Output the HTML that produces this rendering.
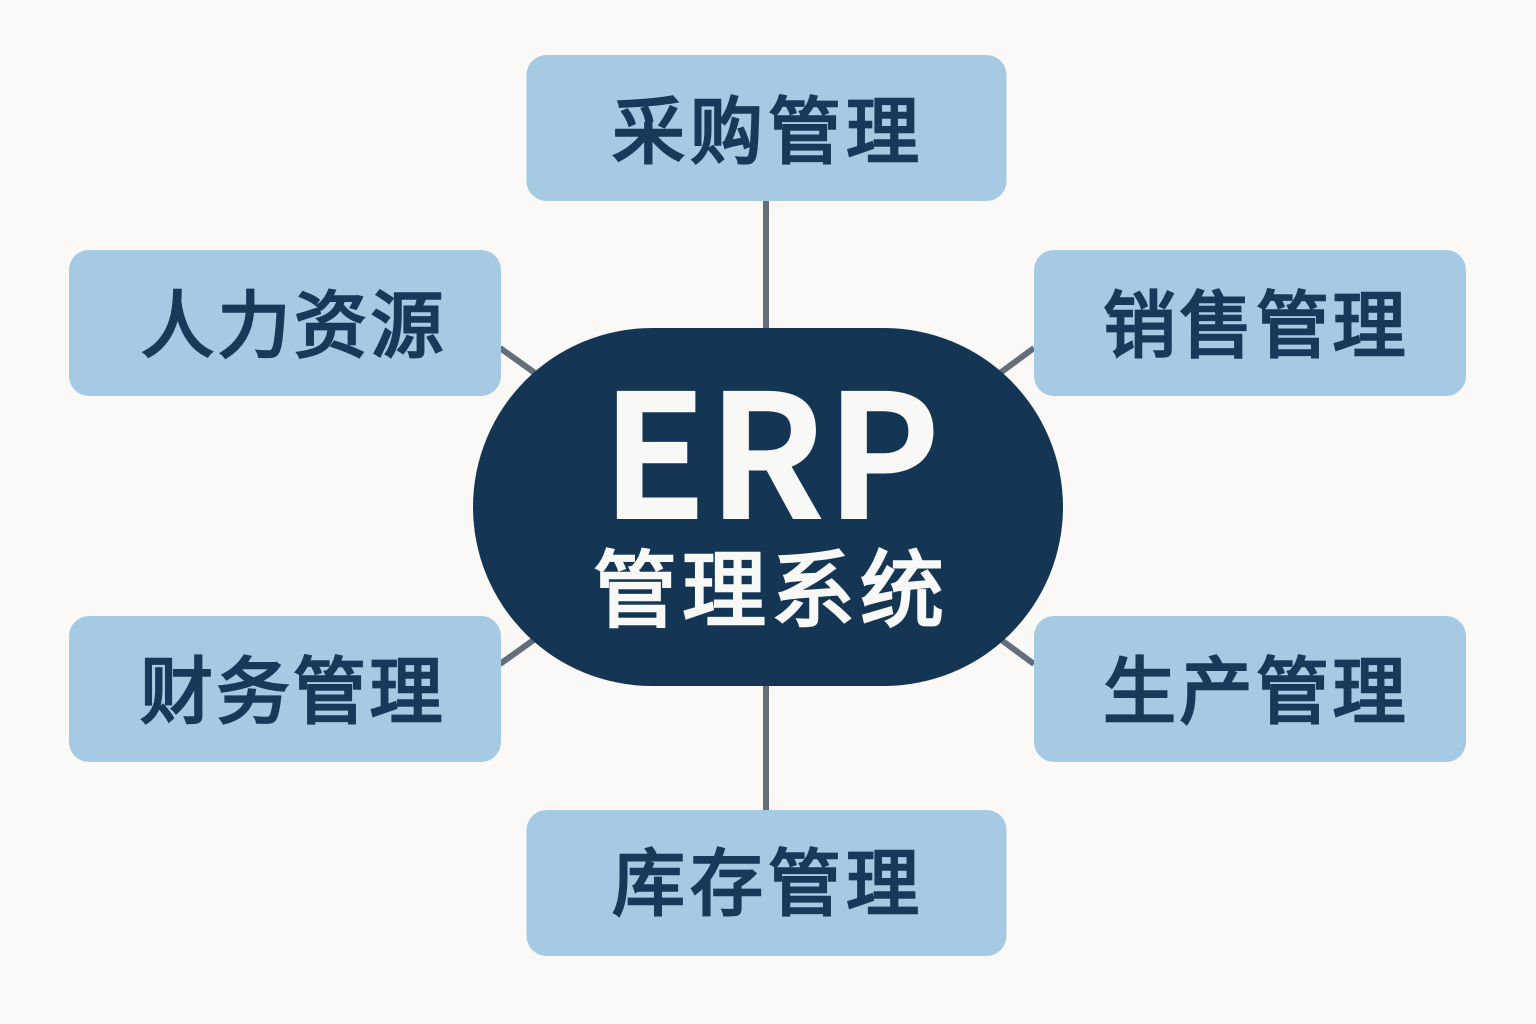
<!DOCTYPE html>
<html lang="zh">
<head>
<meta charset="utf-8">
<style>
html,body{margin:0;padding:0;background:#faf9f7;}
svg{display:block;}
text{font-family:"Noto Sans CJK SC",sans-serif;text-anchor:middle;}
.l{font-size:73px;font-weight:400;fill:#173a5a;stroke:#173a5a;stroke-width:2.6px;letter-spacing:5px;}
.s{letter-spacing:3.5px;}
.c{font-size:84px;font-weight:400;fill:#f8f8f6;stroke:#f8f8f6;stroke-width:2.6px;letter-spacing:5px;}
.e{font-size:173px;font-weight:700;fill:#f8f8f6;}
</style>
</head>
<body>
<svg width="1536" height="1024" viewBox="0 0 1536 1024">
<rect width="1536" height="1024" fill="#faf9f7"/>
<g stroke="#636e7a" stroke-width="6" fill="none">
<line x1="766" y1="200" x2="766" y2="330"/>
<line x1="766" y1="685" x2="766" y2="811"/>
<line x1="500" y1="348" x2="535" y2="373"/>
<line x1="1034" y1="348" x2="1000" y2="373"/>
<line x1="500" y1="664" x2="535" y2="639"/>
<line x1="1034" y1="664" x2="1000" y2="639"/>
</g>
<g fill="#a6cae3">
<rect x="526.5" y="55" width="480" height="146" rx="20"/>
<rect x="69" y="250" width="432" height="146" rx="20"/>
<rect x="1034" y="250" width="432" height="146" rx="20"/>
<rect x="69" y="616" width="432" height="146" rx="20"/>
<rect x="1034" y="616" width="432" height="146" rx="20"/>
<rect x="526.5" y="810" width="480" height="146" rx="20"/>
</g>
<rect x="473" y="328" width="590" height="358" rx="179" fill="#143654"/>
<text class="l" x="768" y="157">采购管理</text>
<text class="l s" x="294" y="351">人力资源</text>
<text class="l s" x="1256" y="351">销售管理</text>
<text class="l s" x="293" y="717">财务管理</text>
<text class="l s" x="1256" y="717">生产管理</text>
<text class="l" x="768" y="909">库存管理</text>
<text class="e" x="771" y="519">ERP</text>
<text class="c" x="771" y="620">管理系统</text>
</svg>
</body>
</html>
